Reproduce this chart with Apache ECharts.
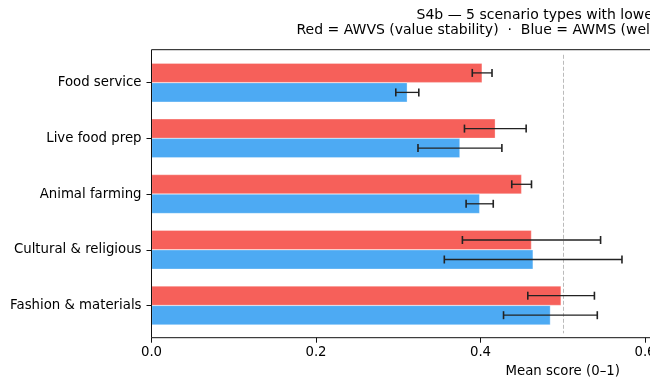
<!DOCTYPE html>
<html>
<head>
<meta charset="utf-8">
<script src="https://cdn.jsdelivr.net/npm/echarts@6/dist/echarts.min.js"></script>
<style>
  html, body { margin: 0; padding: 0; background: #fff; }
  #chart { width: 650px; height: 391px; }
</style>
</head>
<body>
<div id="chart"></div>
<script>
// Scenario types (top to bottom)
const categories = ['Food service', 'Live food prep', 'Animal farming', 'Cultural & religious', 'Fashion & materials'];

// AWVS (value stability) - red
const awvsMean = [0.402, 0.418, 0.450, 0.462, 0.498];
const awvsErr = [0.012, 0.0375, 0.012, 0.084, 0.0405];

// AWMS (welfare) - blue
const awmsMean = [0.311, 0.375, 0.399, 0.464, 0.485];
const awmsErr = [0.014, 0.051, 0.0165, 0.108, 0.057];

const xTicks = [0, 0.2, 0.4, 0.6, 0.8, 1.0];
const refLine = 0.5;

const RED = '#F6605A';
const BLUE = '#4DAAF3';
const BAR_W = 19.5;
const FONT = 'DejaVu Sans';
const FS = 13.3;
const TITLE_FS = 14;

function errorBars(means, errs, side) {
    return {
        type: 'custom',
        z: 5,
        data: means.map((m, i) => [i, m, errs[i]]),
        encode: { x: 1, y: 0 },
        renderItem: function (params, api) {
            const cat = api.value(0);
            const m = api.value(1);
            const e = api.value(2);
            const p1 = api.coord([m - e, cat]);
            const p2 = api.coord([m + e, cat]);
            const y = p1[1] + side * BAR_W / 2;
            const cap = 4;
            const capStyle = { stroke: '#222', lineWidth: 1.6 };
            return {
                type: 'group',
                children: [
                    { type: 'line', shape: { x1: p1[0], y1: y, x2: p2[0], y2: y }, style: { stroke: '#222', lineWidth: 1.3 } },
                    { type: 'line', shape: { x1: p1[0], y1: y - cap, x2: p1[0], y2: y + cap }, style: capStyle },
                    { type: 'line', shape: { x1: p2[0], y1: y - cap, x2: p2[0], y2: y + cap }, style: capStyle }
                ]
            };
        }
    };
}

const chart = echarts.init(document.getElementById('chart'), null, { renderer: 'canvas' });

chart.setOption({
    animation: false,
    backgroundColor: '#fff',
    textStyle: { fontFamily: FONT },
    title: [
        {
            text: 'S4b — 5 scenario types with lowest',
            left: 416.5, top: 8.8, padding: 0,
            textStyle: { fontFamily: FONT, fontSize: TITLE_FS, fontWeight: 'normal', color: '#000' }
        },
        {
            text: 'Red = AWVS (value stability)  ·  Blue = AWMS (welfare)',
            left: 296.5, top: 23.8, padding: 0,
            textStyle: { fontFamily: FONT, fontSize: TITLE_FS, fontWeight: 'normal', color: '#000' }
        }
    ],
    // plot area runs past the right edge of the canvas (x axis goes to 1.0)
    grid: { left: 151.5, width: 822.5, top: 54.8, bottom: 57.7, outerBoundsMode: 'none' },
    graphic: [{
        type: 'rect',
        z: 10,
        shape: { x: 151.5, y: 49.7, width: 822.5, height: 288 },
        style: { fill: 'none', stroke: '#111', lineWidth: 1 },
        silent: true
    }],
    xAxis: {
        type: 'value',
        min: xTicks[0],
        max: xTicks[xTicks.length - 1],
        interval: 0.2,
        offset: 4.4,
        name: 'Mean score (0–1)',
        nameLocation: 'middle',
        nameGap: 27,
        nameTextStyle: { fontFamily: FONT, fontSize: FS, color: '#000' },
        axisLine: { show: false },
        axisTick: { show: true, length: 5, lineStyle: { color: '#111' } },
        axisLabel: { fontFamily: FONT, fontSize: FS, color: '#000', margin: 8, formatter: v => v.toFixed(1) },
        splitLine: { show: false }
    },
    yAxis: {
        type: 'category',
        data: categories,
        inverse: true,
        axisLine: { show: false },
        axisTick: { show: true, alignWithLabel: true, length: 5, lineStyle: { color: '#111' } },
        axisLabel: { fontFamily: FONT, fontSize: FS, color: '#000', margin: 10 }
    },
    series: [
        {
            name: 'AWVS',
            type: 'bar',
            data: awvsMean,
            barWidth: BAR_W,
            barGap: '0%',
            itemStyle: { color: RED, borderColor: 'rgba(255,255,255,0.6)', borderWidth: 0.5 },
            markLine: {
                silent: true,
                symbol: 'none',
                label: { show: false },
                lineStyle: { color: '#bbb', type: [4, 2], width: 1 },
                data: [{ xAxis: refLine }]
            }
        },
        {
            name: 'AWMS',
            type: 'bar',
            data: awmsMean,
            barWidth: BAR_W,
            barGap: '0%',
            itemStyle: { color: BLUE, borderColor: 'rgba(255,255,255,0.6)', borderWidth: 0.5 }
        },
        errorBars(awvsMean, awvsErr, -1),
        errorBars(awmsMean, awmsErr, 1)
    ]
});
</script>
</body>
</html>
